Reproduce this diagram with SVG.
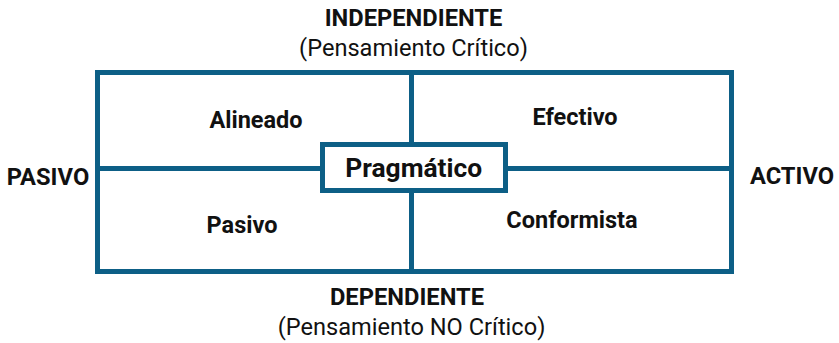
<svg xmlns="http://www.w3.org/2000/svg" width="839" height="343" viewBox="0 0 839 343">
<style>
.ln{stroke:#0d5f86;stroke-width:5;fill:none}
.b{font-family:Roboto,"Liberation Sans",sans-serif;font-weight:bold;fill:#111;text-anchor:middle}
.r{font-family:Roboto,"Liberation Sans",sans-serif;fill:#111;text-anchor:middle}
</style>
<rect width="839" height="343" fill="#fff"/>
<g id="connectors">
<line class="ln" x1="97.5" y1="168.5" x2="322.5" y2="168.5"/>
<line class="ln" x1="505.5" y1="168.5" x2="731.5" y2="168.5"/>
<line class="ln" x1="411.5" y1="72.5" x2="411.5" y2="144.5"/>
<line class="ln" x1="411.5" y1="190.5" x2="411.5" y2="271.5"/>
</g>
<g id="frame"><rect class="ln" x="97.5" y="72.5" width="634" height="199"/></g>
<g id="n-independiente"><text class="b" x="413.5" y="26" font-size="23.7">INDEPENDIENTE</text><text class="r" x="413.5" y="56" font-size="23.6">(Pensamiento Crítico)</text></g>
<g id="n-dependiente"><text class="b" x="407" y="305" font-size="23.7">DEPENDIENTE</text><text class="r" x="411.5" y="335" font-size="23.6">(Pensamiento NO Crítico)</text></g>
<g id="n-pasivo-axis"><text class="b" x="48" y="185" font-size="23.7">PASIVO</text></g>
<g id="n-activo-axis"><text class="b" x="792" y="184" font-size="23.7">ACTIVO</text></g>
<g id="n-alineado"><text class="b" x="256" y="128" font-size="23.5">Alineado</text></g>
<g id="n-efectivo"><text class="b" x="575" y="125" font-size="23.5">Efectivo</text></g>
<g id="n-pasivo"><text class="b" x="242" y="233" font-size="23.5">Pasivo</text></g>
<g id="n-conformista"><text class="b" x="572" y="228" font-size="23.5">Conformista</text></g>
<g id="n-pragmatico"><rect class="ln" x="322.5" y="144.5" width="183" height="46" fill="#fff"/><text class="b" x="413.7" y="177" font-size="26.4">Pragmático</text></g>
</svg>
